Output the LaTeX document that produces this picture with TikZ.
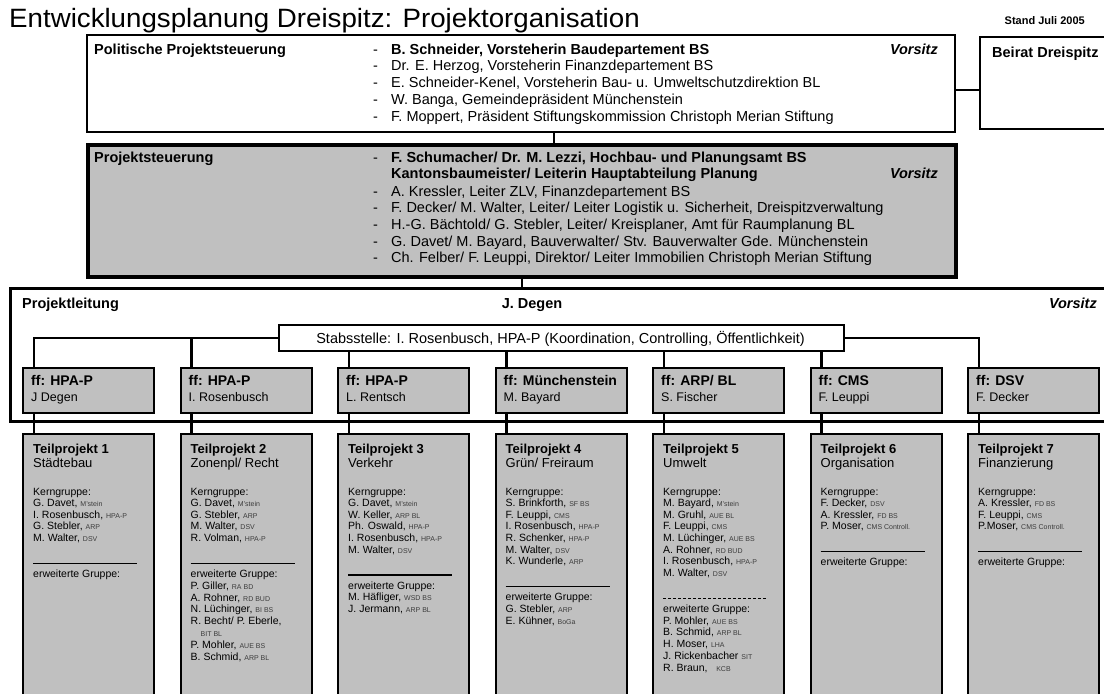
\documentclass[tikz,border=0pt]{standalone}
\usepackage{fontspec}
\usepackage{graphicx}
\setmainfont{Liberation Sans}
\usetikzlibrary{calc}
\definecolor{boxgray}{RGB}{192,192,192}
\definecolor{tagcol}{RGB}{60,60,60}
\newcommand\fsz[1]{\fontsize{#1}{#1}\selectfont}
\newcommand\tgx[1]{\textcolor{tagcol}{\fsz{7}#1}}
\newcommand\tpcol[7]{%
  \node[tptitle] (tp#1t) at ({#2+11},453.5) {Teilprojekt #3};
  \node[tpsub] (tp#1s) at ({#2+11},467.5) {#4};
  \node[tpname] (tp#1k) at ({#2+11},495) {Kerngruppe:};
  \foreach \nm/\tgv [count=\k] in {#5}{\node[tpname] (tp#1k\k) at ({#2+11},{495+\k*11.6}) {\nm\tgx{\tgv}};}
  \draw[#7] ({#2+11},{495+#6*11.6+22}) -- ({#2+115},{495+#6*11.6+22});
  \node[tpname] (tp#1e) at ({#2+11},{495+#6*11.6+36}) {erweiterte Gruppe:};
}
\newcommand\tperw[4]{%
  \foreach \nm/\tgv [count=\k] in {#4}{\node[tpname] (tp#1e\k) at ({#2+11},{495+#3*11.6+36+\k*11.8}) {\nm\tgx{\tgv}};}
}
\begin{document}
\begin{tikzpicture}[x=1pt,y=-1pt,
  box/.style={draw=black, rectangle, inner sep=0pt, anchor=north west, line width=2.3pt},
  gbox/.style={box, fill=boxgray},
  conn/.style={line width=2.2pt},
  txt/.style={inner sep=0pt, anchor=base west, font=\fsz{14.5}},
  btxt/.style={inner sep=0pt, anchor=base west, font=\fsz{14.5}\bfseries},
  bitxt/.style={inner sep=0pt, anchor=base east, font=\fsz{14.5}\bfseries\itshape},
  tptitle/.style={inner sep=0pt, anchor=base west, font=\fsz{13}\bfseries},
  tpsub/.style={inner sep=0pt, anchor=base west, font=\fsz{13}},
  tpname/.style={inner sep=0pt, anchor=base west, font=\fsz{10.5}},
  fft/.style={inner sep=0pt, anchor=base west, font=\fsz{14}\bfseries},
  ffn/.style={inner sep=0pt, anchor=base west, font=\fsz{12.5}}
]
\useasboundingbox (0,0) rectangle (1104,694);
\clip (0,0) rectangle (1104,694);
\fill[white] (0,0) rectangle (1104,694);

% title
\node[inner sep=0pt, anchor=base west] (title) at (9,27) {\scalebox{1.045}[1]{\fsz{26.5}Entwicklungsplanung Dreispitz: Projektorganisation}};
\node[inner sep=0pt, anchor=base east, font=\fsz{11}\bfseries] (stand) at (1085,24) {Stand Juli 2005};

% main boxes
\node[box, minimum width=868, minimum height=97] (pol) at (86,34) {};
\node[box, minimum width=140, minimum height=92] (beirat) at (979,36) {};
\node[gbox, line width=3.5pt, minimum width=868, minimum height=132] (pst) at (86,143) {};
\node[box, line width=3pt, minimum width=1110, minimum height=133] (pl) at (9,287) {};
\node[box, fill=white, minimum width=565, minimum height=26] (stab) at (278,324) {};

% connectors top
\draw[conn] (554,0 |- pol.south) -- (554,0 |- pst.north);
\draw[conn] (pol.east |- 0,90) -- (beirat.west |- 0,90);
\draw[conn] (pst.south) -- (pst.south |- pl.north);

% Politische texts
\node[btxt] (polL) at (94,54) {Politische Projektsteuerung};
\node[bitxt] (polV) at (938,54) {Vorsitz};
\foreach \t [count=\k] in {{\textbf{B. Schneider, Vorsteherin Baudepartement BS}},
  {Dr. E. Herzog, Vorsteherin Finanzdepartement BS},
  {E. Schneider-Kenel, Vorsteherin Bau- u. Umweltschutzdirektion BL},
  {W. Banga, Gemeindepräsident Münchenstein},
  {F. Moppert, Präsident Stiftungskommission Christoph Merian Stiftung}}{
  \node[txt] (pold\k) at (373,{54+(\k-1)*16.75}) {-};
  \node[txt] (polt\k) at (391,{54+(\k-1)*16.75}) {\t};
}
\node[btxt] (beiratL) at (992,57) {Beirat Dreispitz};

% Projektsteuerung texts
\node[btxt] (pstL) at (94,162) {Projektsteuerung};
\node[bitxt] (pstV) at (938,178.5) {Vorsitz};
\node[txt] (pstd1) at (373,162) {-};
\node[btxt] (pstt1) at (391,162) {F. Schumacher/ Dr. M. Lezzi, Hochbau- und Planungsamt BS};
\node[btxt] (pstt2) at (391,178.5) {Kantonsbaumeister/ Leiterin Hauptabteilung Planung};
\foreach \t [count=\k] in {{A. Kressler, Leiter ZLV, Finanzdepartement BS},
  {F. Decker/ M. Walter, Leiter/ Leiter Logistik u. Sicherheit, Dreispitzverwaltung},
  {H.-G. Bächtold/ G. Stebler, Leiter/ Kreisplaner, Amt für Raumplanung BL},
  {G. Davet/ M. Bayard, Bauverwalter/ Stv. Bauverwalter Gde. Münchenstein},
  {Ch. Felber/ F. Leuppi, Direktor/ Leiter Immobilien Christoph Merian Stiftung}}{
  \node[txt] (pstdd\k) at (373,{196+(\k-1)*16.7}) {-};
  \node[txt] (psttt\k) at (391,{196+(\k-1)*16.7}) {\t};
}

% Projektleitung texts
\node[btxt] (plL) at (22,308) {Projektleitung};
\node[inner sep=0pt, anchor=base, font=\fsz{14.5}\bfseries] (plD) at (532,308) {J. Degen};
\node[inner sep=0pt, anchor=base east, font=\fsz{14.5}\bfseries\itshape] (plV) at (1097,308) {Vorsitz};
\node[inner sep=0pt, anchor=base, font=\fsz{14.5}] (stabT) at (560.5,343) {Stabsstelle: I. Rosenbusch, HPA-P (Koordination, Controlling, Öffentlichkeit)};

% ff boxes and Teilprojekt boxes
\foreach \i/\a/\b in {0/{ff: HPA-P}/{J Degen}, 1/{ff: HPA-P}/{I. Rosenbusch}, 2/{ff: HPA-P}/{L. Rentsch},
  3/{ff: Münchenstein}/{M. Bayard}, 4/{ff: ARP/ BL}/{S. Fischer}, 5/{ff: CMS}/{F. Leuppi}, 6/{ff: DSV}/{F. Decker}}{
  \pgfmathsetmacro\xx{22+\i*157.5}
  \node[gbox, minimum width=131, minimum height=45] (ff\i) at (\xx,367) {};
  \node[gbox, minimum width=131, minimum height=290] (tp\i) at (\xx,433) {};
  \coordinate (d\i) at ({\xx+12},367);
  \node[fft] (ff\i a) at ({\xx+9},385) {\a};
  \node[ffn] (ff\i b) at ({\xx+9},401.5) {\b};
  \draw[conn] (ff\i.south -| d\i) -- (tp\i.north -| d\i);
}

% bus from Stabsstelle
\draw[conn] (stab.west) -- (stab.west -| d0) -- (d0);
\draw[conn] (stab.west -| d1) -- (d1);
\foreach \i in {2,3,4,5}{\draw[conn] (stab.south -| d\i) -- (d\i);}
\draw[conn] (stab.east) -- (stab.east -| d6) -- (d6);

% Teilprojekt contents
\tpcol{0}{22}{1}{Städtebau}{{G. Davet, }/{M'stein}, {I. Rosenbusch, }/{HPA-P}, {G. Stebler, }/{ARP}, {M. Walter, }/{DSV}}{4}{line width=1.2pt}
\tpcol{1}{179.5}{2}{Zonenpl/ Recht}{{G. Davet, }/{M'stein}, {G. Stebler, }/{ARP}, {M. Walter, }/{DSV}, {R. Volman, }/{HPA-P}}{4}{line width=1.2pt}
\tperw{1}{179.5}{4}{{P. Giller, }/{RA BD}, {A. Rohner, }/{RD BUD}, {N. Lüchinger, }/{BI BS}, {R. Becht/ P. Eberle,}/{}, {\hspace*{10pt}}/{BIT BL}, {P. Mohler, }/{AUE BS}, {B. Schmid, }/{ARP BL}}
\tpcol{2}{337}{3}{Verkehr}{{G. Davet, }/{M'stein}, {W. Keller, }/{ARP BL}, {Ph. Oswald, }/{HPA-P}, {I. Rosenbusch, }/{HPA-P}, {M. Walter, }/{DSV}}{5}{line width=1.2pt}
\tperw{2}{337}{5}{{M. Häfliger, }/{WSD BS}, {J. Jermann, }/{ARP BL}}
\tpcol{3}{494.5}{4}{Grün/ Freiraum}{{S. Brinkforth, }/{SF BS}, {F. Leuppi, }/{CMS}, {I. Rosenbusch, }/{HPA-P}, {R. Schenker, }/{HPA-P}, {M. Walter, }/{DSV}, {K. Wunderle, }/{ARP}}{6}{line width=1.2pt}
\tperw{3}{494.5}{6}{{G. Stebler, }/{ARP}, {E. Kühner, }/{BoGa}}
\tpcol{4}{652}{5}{Umwelt}{{M. Bayard, }/{M'stein}, {M. Gruhl, }/{AUE BL}, {F. Leuppi, }/{CMS}, {M. Lüchinger, }/{AUE BS}, {A. Rohner, }/{RD BUD}, {I. Rosenbusch, }/{HPA-P}, {M. Walter, }/{DSV}}{7}{line width=0.8pt, densely dashed}
\tperw{4}{652}{7}{{P. Mohler, }/{AUE BS}, {B. Schmid, }/{ARP BL}, {H. Moser, }/{LHA}, {J. Rickenbacher }/{SIT}, {R. Braun, \ \ }/{KCB}}
\tpcol{5}{809.5}{6}{Organisation}{{F. Decker, }/{DSV}, {A. Kressler, }/{FD BS}, {P. Moser, }/{CMS Controll.}}{3}{line width=1.2pt}
\tpcol{6}{967}{7}{Finanzierung}{{A. Kressler, }/{FD BS}, {F. Leuppi, }/{CMS}, {P.Moser, }/{CMS Controll.}}{3}{line width=1.2pt}
\end{tikzpicture}
\end{document}
